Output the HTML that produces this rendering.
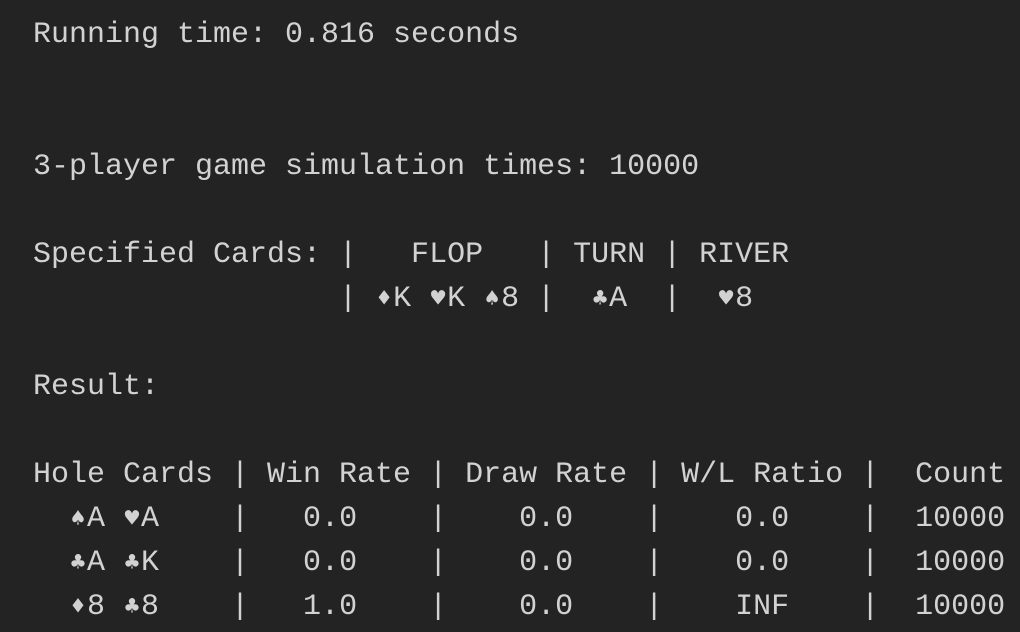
<!DOCTYPE html>
<html><head><meta charset="utf-8">
<style>
html,body{margin:0;padding:0;background:#232323;width:1020px;height:632px;overflow:hidden}
pre{margin:0;padding:13px 0 0 33px;font-family:"Liberation Mono","DejaVu Sans Mono",monospace;font-size:30px;line-height:44px;color:#d2d2d2;white-space:pre}
.s{display:inline-block;width:18px;text-align:center;font-family:"DejaVu Sans Mono","DejaVu Sans",monospace;font-size:24px;line-height:1;vertical-align:baseline}
</style></head>
<body>
<pre>Running time: 0.816 seconds


3-player game simulation times: 10000

Specified Cards: |   FLOP   | TURN | RIVER
                 | <span class="s">♦</span>K <span class="s">♥</span>K <span class="s">♠</span>8 |  <span class="s">♣</span>A  |  <span class="s">♥</span>8

Result:

Hole Cards | Win Rate | Draw Rate | W/L Ratio |  Count
  <span class="s">♠</span>A <span class="s">♥</span>A    |   0.0    |    0.0    |    0.0    |  10000
  <span class="s">♣</span>A <span class="s">♣</span>K    |   0.0    |    0.0    |    0.0    |  10000
  <span class="s">♦</span>8 <span class="s">♣</span>8    |   1.0    |    0.0    |    INF    |  10000</pre>
</body></html>
